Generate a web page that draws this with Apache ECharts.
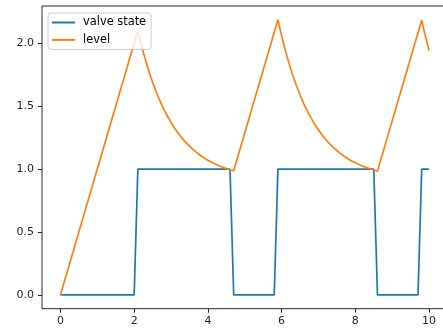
<!DOCTYPE html>
<html>
<head>
<meta charset="utf-8">
<script src="https://cdn.jsdelivr.net/npm/echarts@6/dist/echarts.min.js"></script>
<style>
html,body{margin:0;padding:0;background:#fff;}
#chart{width:443px;height:329px;}
</style>
</head>
<body>
<div id="chart"></div>
<script>
// time samples (x values)
const time = [
  0.0,0.1,0.2,0.3,0.4,0.5,0.6,0.7,0.8,0.9,
  1.0,1.1,1.2,1.3,1.4,1.5,1.6,1.7,1.8,1.9,
  2.0,2.1,2.2,2.3,2.4,2.5,2.6,2.7,2.8,2.9,
  3.0,3.1,3.2,3.3,3.4,3.5,3.6,3.7,3.8,3.9,
  4.0,4.1,4.2,4.3,4.4,4.5,4.6,4.7,4.8,4.9,
  5.0,5.1,5.2,5.3,5.4,5.5,5.6,5.7,5.8,5.9,
  6.0,6.1,6.2,6.3,6.4,6.5,6.6,6.7,6.8,6.9,
  7.0,7.1,7.2,7.3,7.4,7.5,7.6,7.7,7.8,7.9,
  8.0,8.1,8.2,8.3,8.4,8.5,8.6,8.7,8.8,8.9,
  9.0,9.1,9.2,9.3,9.4,9.5,9.6,9.7,9.8,9.9,
  10.0
];
// valve state series
const valveState = [
  0,0,0,0,0,0,0,0,0,0,
  0,0,0,0,0,0,0,0,0,0,
  0,1,1,1,1,1,1,1,1,1,
  1,1,1,1,1,1,1,1,1,1,
  1,1,1,1,1,1,1,0,0,0,
  0,0,0,0,0,0,0,0,0,1,
  1,1,1,1,1,1,1,1,1,1,
  1,1,1,1,1,1,1,1,1,1,
  1,1,1,1,1,1,0,0,0,0,
  0,0,0,0,0,0,0,0,1,1,
  1
];
// level series
const level = [
  0.000,0.100,0.200,0.300,0.400,0.500,0.600,0.700,0.800,0.900,
  1.000,1.100,1.200,1.300,1.400,1.500,1.600,1.700,1.800,1.900,
  2.000,2.100,1.981,1.874,1.778,1.691,1.613,1.542,1.479,1.422,
  1.371,1.325,1.283,1.246,1.212,1.182,1.155,1.131,1.108,1.089,
  1.071,1.055,1.040,1.027,1.015,1.005,0.995,0.987,1.087,1.187,
  1.287,1.387,1.487,1.587,1.687,1.787,1.887,1.987,2.087,2.187,
  2.059,1.944,1.841,1.748,1.664,1.589,1.521,1.460,1.405,1.355,
  1.311,1.271,1.235,1.202,1.173,1.147,1.123,1.102,1.082,1.065,
  1.050,1.036,1.023,1.012,1.002,0.993,0.984,1.084,1.184,1.284,
  1.384,1.484,1.584,1.684,1.784,1.884,1.984,2.084,2.184,2.057,
  1.942
];
const xTicks = [0, 2, 4, 6, 8, 10];
const yTicks = [0, 0.5, 1.0, 1.5, 2.0];
const seriesNames = ['valve state', 'level'];

const chart = echarts.init(document.getElementById('chart'), null, {renderer: 'canvas'});
const font = 'DejaVu Sans';
chart.setOption({
  animation: false,
  backgroundColor: '#ffffff',
  grid: {
    left: 42, top: 6, width: 405.5, height: 302.7,
    outerBoundsMode: 'none', containLabel: false,
    show: true, borderColor: '#262626', borderWidth: 1, backgroundColor: 'transparent'
  },
  legend: {
    data: seriesNames,
    orient: 'vertical',
    left: 48, top: 13,
    padding: [3, 5, 3, 4],
    itemGap: 4.4,
    itemWidth: 23, itemHeight: 2,
    icon: 'rect',
    backgroundColor: 'rgba(255,255,255,0.8)',
    borderColor: '#cccccc', borderWidth: 1, borderRadius: 3,
    textStyle: {fontFamily: font, fontSize: 11.4, color: '#000', lineHeight: 13, padding: [0, 0, 0, 3]}
  },
  xAxis: {
    type: 'value', min: -0.5, max: 10.5,
    axisLine: {show: false, onZero: false},
    splitLine: {show: false},
    axisTick: {show: true, length: 4, lineStyle: {color: '#262626', width: 1}, customValues: xTicks},
    axisLabel: {customValues: xTicks, fontFamily: font, fontSize: 11, color: '#262626', margin: 7,
      formatter: v => String(v)}
  },
  yAxis: {
    type: 'value', min: -0.1093, max: 2.2962,
    axisLine: {show: false, onZero: false},
    splitLine: {show: false},
    axisTick: {show: true, length: 4, lineStyle: {color: '#262626', width: 1}, customValues: yTicks},
    axisLabel: {customValues: yTicks, fontFamily: font, fontSize: 11, color: '#262626', margin: 8,
      formatter: v => v.toFixed(1)}
  },
  series: [
    {
      name: seriesNames[0], type: 'line', symbol: 'none',
      data: time.map((t, i) => [t, valveState[i]]),
      lineStyle: {color: '#1f77b4', width: 1.7}, itemStyle: {color: '#1f77b4'}, z: 2
    },
    {
      name: seriesNames[1], type: 'line', symbol: 'none',
      data: time.map((t, i) => [t, level[i]]),
      lineStyle: {color: '#ff7f0e', width: 1.7}, itemStyle: {color: '#ff7f0e'}, z: 3
    }
  ]
});
</script>
</body>
</html>
